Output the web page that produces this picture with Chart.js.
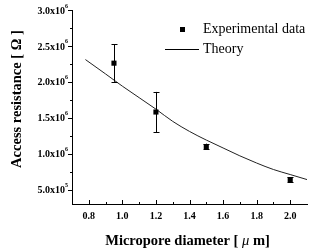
<!DOCTYPE html>
<html>
<head>
<meta charset="utf-8">
<script src="https://cdn.jsdelivr.net/npm/chart.js@4"></script>
<style>
  body { margin: 0; background: #fff; }
  #wrap { width: 311px; height: 251px; position: relative; }
</style>
</head>
<body>
<div id="wrap"><canvas id="canvas"></canvas></div>
<script>
// measured points (micropore diameter in um, access resistance in ohm)
var expDiameter = [0.95, 1.2, 1.5, 2.0];
var expResistance = [2.26e6, 1.58e6, 1.10e6, 0.64e6];
var expErrLow = [2.00e6, 1.30e6, 1.06e6, 0.61e6];
var expErrHigh = [2.52e6, 1.86e6, 1.14e6, 0.67e6];

// theory curve
var theoryDiameter = [0.78, 0.9, 1.0, 1.1, 1.2, 1.3, 1.4, 1.5, 1.6, 1.7, 1.8, 1.9, 2.0, 2.1];
var theoryResistance = [2.31e6, 2.11e6, 1.94e6, 1.78e6, 1.62e6, 1.45e6, 1.31e6, 1.19e6, 1.08e6, 0.97e6, 0.87e6, 0.78e6, 0.71e6, 0.64e6];

var xTicks = [0.8, 1.0, 1.2, 1.4, 1.6, 1.8, 2.0];
var xMinorTicks = [0.9, 1.1, 1.3, 1.5, 1.7, 1.9];
var yTicks = [5e5, 1e6, 1.5e6, 2e6, 2.5e6, 3e6];
var yTickText = ['5.0x10', '1.0x10', '1.5x10', '2.0x10', '2.5x10', '3.0x10'];
var yTickExp = ['5', '6', '6', '6', '6', '6'];
var yMinorTicks = [7.5e5, 1.25e6, 1.75e6, 2.25e6, 2.75e6];

var serif = '"Liberation Serif", "DejaVu Serif", serif';

// error bars, ticks, labels, titles and legend
var decorPlugin = {
    id: 'decor',
    afterDatasetsDraw: function(chart) {
        var ctx = chart.ctx;
        var xs = chart.scales.x;
        var ys = chart.scales.y;
        var area = chart.chartArea;

        ctx.save();
        ctx.strokeStyle = '#000';
        ctx.fillStyle = '#000';
        ctx.lineWidth = 1;

        // error bars
        for (var i = 0; i < expDiameter.length; i++) {
            var px = Math.round(xs.getPixelForValue(expDiameter[i])) + 0.5;
            var top = ys.getPixelForValue(expErrHigh[i]);
            var bot = ys.getPixelForValue(expErrLow[i]);
            ctx.beginPath();
            ctx.moveTo(px, top);
            ctx.lineTo(px, bot);
            ctx.moveTo(px - 3, Math.round(top) + 0.5);
            ctx.lineTo(px + 3, Math.round(top) + 0.5);
            ctx.moveTo(px - 3, Math.round(bot) + 0.5);
            ctx.lineTo(px + 3, Math.round(bot) + 0.5);
            ctx.stroke();
        }

        // x ticks (inward)
        ctx.beginPath();
        xTicks.forEach(function(v) {
            var px = Math.round(xs.getPixelForValue(v)) + 0.5;
            ctx.moveTo(px, area.bottom);
            ctx.lineTo(px, area.bottom - 4);
        });
        xMinorTicks.forEach(function(v) {
            var px = Math.round(xs.getPixelForValue(v)) + 0.5;
            ctx.moveTo(px, area.bottom);
            ctx.lineTo(px, area.bottom - 2);
        });
        // y ticks (outward)
        yTicks.forEach(function(v) {
            var py = Math.round(ys.getPixelForValue(v)) + 0.5;
            ctx.moveTo(area.left, py);
            ctx.lineTo(area.left - 4, py);
        });
        yMinorTicks.forEach(function(v) {
            var py = Math.round(ys.getPixelForValue(v)) + 0.5;
            ctx.moveTo(area.left, py);
            ctx.lineTo(area.left - 2, py);
        });
        ctx.stroke();

        // x tick labels
        ctx.font = 'bold 10px ' + serif;
        ctx.textAlign = 'center';
        ctx.textBaseline = 'middle';
        xTicks.forEach(function(v) {
            ctx.fillText(v.toFixed(1), xs.getPixelForValue(v), area.bottom + 12);
        });

        // y tick labels with superscript
        ctx.textAlign = 'right';
        yTicks.forEach(function(v, k) {
            var py = ys.getPixelForValue(v);
            ctx.font = 'bold 6px ' + serif;
            var expW = ctx.measureText(yTickExp[k]).width;
            ctx.fillText(yTickExp[k], area.left - 4, py - 4);
            ctx.font = 'bold 10px ' + serif;
            ctx.fillText(yTickText[k], area.left - 4 - expW, py + 1);
        });

        // x title
        ctx.textBaseline = 'middle';
        ctx.textAlign = 'left';
        var parts = [
            { t: 'Micropore diameter [ ', f: 'bold 14.5px ' + serif },
            { t: '\u03bc', f: 'italic 14.5px ' + serif },
            { t: ' m]', f: 'bold 14.5px ' + serif }
        ];
        var total = 0;
        parts.forEach(function(p) { ctx.font = p.f; p.w = ctx.measureText(p.t).width; total += p.w; });
        var tx = 187.5 - total / 2;
        parts.forEach(function(p) { ctx.font = p.f; ctx.fillText(p.t, tx, 241); tx += p.w; });

        // y title
        ctx.save();
        ctx.translate(17, 99);
        ctx.rotate(-Math.PI / 2);
        ctx.font = 'bold 14.5px ' + serif;
        ctx.textAlign = 'center';
        ctx.fillText('Access resistance [ \u03a9 ]', 0, 0);
        ctx.restore();

        // legend
        ctx.fillRect(180, 27, 5, 5);
        ctx.beginPath();
        ctx.moveTo(165, 49.5);
        ctx.lineTo(199, 49.5);
        ctx.stroke();
        ctx.font = '14px ' + serif;
        ctx.textAlign = 'left';
        ctx.fillText('Experimental data', 203, 29);
        ctx.fillText('Theory', 203, 49);

        ctx.restore();
    }
};

function renderChart() {
    var ctx = document.getElementById('canvas').getContext('2d');
    new Chart(ctx, {
        type: 'scatter',
        data: {
            datasets: [{
                label: 'Experimental data',
                data: expDiameter.map(function(d, i) { return { x: d, y: expResistance[i] }; }),
                pointStyle: 'rect',
                pointRadius: 3.6,
                backgroundColor: '#000',
                borderColor: '#000',
                borderWidth: 0,
                showLine: false
            }, {
                label: 'Theory',
                data: theoryDiameter.map(function(d, i) { return { x: d, y: theoryResistance[i] }; }),
                showLine: true,
                pointRadius: 0,
                borderColor: '#222',
                borderWidth: 1,
                cubicInterpolationMode: 'monotone',
                fill: false
            }]
        },
        options: {
            responsive: true,
            maintainAspectRatio: false,
            animation: false,
            layout: { padding: { left: 64, top: 10, right: 2, bottom: 39 } },
            plugins: { legend: { display: false }, tooltip: { enabled: false } },
            scales: {
                x: {
                    type: 'linear',
                    min: 0.7,
                    max: 2.1,
                    grid: { display: false },
                    ticks: { display: false },
                    border: { display: true, color: '#000', width: 1 }
                },
                y: {
                    type: 'linear',
                    min: 3e5,
                    max: 3e6,
                    grid: { display: false },
                    ticks: { display: false },
                    border: { display: true, color: '#000', width: 1 }
                }
            }
        },
        plugins: [decorPlugin]
    });
}

renderChart();
</script>
</body>
</html>
